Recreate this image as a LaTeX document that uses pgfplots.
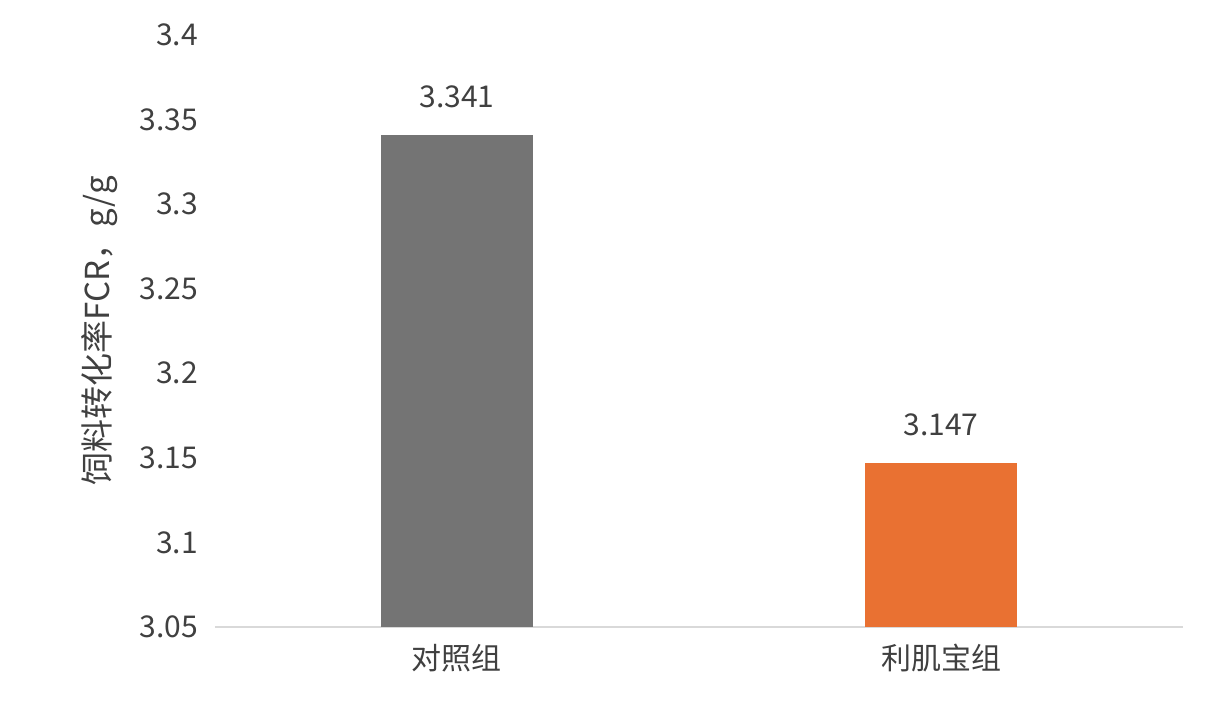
\documentclass[border=0pt]{standalone}
\usepackage{fontspec}
\setmainfont{Noto Sans CJK SC}
\usepackage{pgfplots}
\pgfplotsset{compat=1.18}
\definecolor{barGray}{HTML}{747474}
\definecolor{barOrange}{HTML}{E97132}
\definecolor{txt}{HTML}{404040}
\definecolor{axisline}{HTML}{D9D9D9}

\begin{document}
\begin{tikzpicture}
\useasboundingbox (-107.5pt,-43.5pt) rectangle (495.5pt,313.5pt);
\begin{axis}[
  scale only axis,
  width=484pt, height=296pt,
  xmin=-0.5, xmax=1.5,
  ymin=3.05, ymax=3.4,
  ytick={3.05,3.1,3.15,3.2,3.25,3.3,3.35,3.4},
  yticklabels={3.05,3.1,3.15,3.2,3.25,3.3,3.35,3.4},
  xtick={0,1},
  xticklabels={对照组,利肌宝组},
  axis x line*=bottom,
  axis y line*=left,
  y axis line style={draw=none},
  x axis line style={draw=axisline, line width=1pt},
  major tick length=0pt,
  tick label style={font=\fontsize{15}{18}\selectfont, text=txt},
  yticklabel style={xshift=-5pt},
  xticklabel style={yshift=-5pt},
  ylabel={饲料转化率FCR，g/g},
  ylabel style={at={(axis description cs:-0.119,0.5)}, anchor=center,
    font=\fontsize{16.5}{19}\selectfont, text=txt},
  ybar, bar width=76pt, bar shift=0pt,
  point meta=explicit symbolic,
  nodes near coords,
  every node near coord/.append style={font=\fontsize{15}{18}\selectfont, text=txt, yshift=10pt},
  clip=false,
]
\addplot[fill=barGray, draw=none] coordinates {(0,3.341) [3.341]};
\addplot[fill=barOrange, draw=none] coordinates {(1,3.147) [3.147]};
\end{axis}
\end{tikzpicture}
\end{document}
